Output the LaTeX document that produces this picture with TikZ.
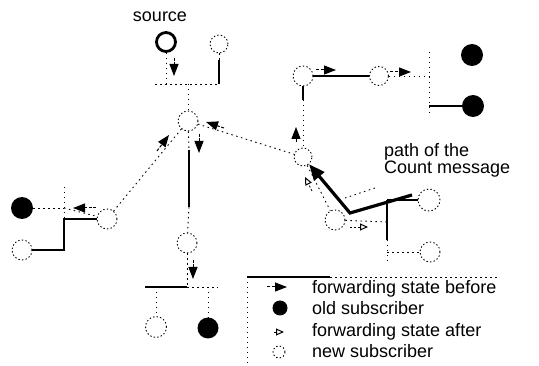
\documentclass[tikz,border=0pt]{standalone}
\usepackage{fontspec}
\setmainfont{Liberation Sans}
\usetikzlibrary{arrows.meta}
\begin{document}
\begin{tikzpicture}[x=1pt,y=-1pt,
  newsub/.style={circle,draw,line width=0.9pt,dash pattern=on 1.4pt off 2.2pt,minimum size=20pt,inner sep=0pt},
  oldsub/.style={circle,fill,minimum size=22pt,inner sep=0pt},
  srcnode/.style={circle,draw,line width=2.8pt,minimum size=19pt,inner sep=0pt},
  conn/.style={line width=1.1pt},
  faint/.style={line width=0.9pt,dash pattern=on 1.5pt off 3.5pt},
  fwdbefore/.style={line width=1pt,dash pattern=on 3pt off 1.5pt,-{Triangle[length=12pt,width=9pt]}},
  fwdafter/.style={line width=0.8pt,dash pattern=on 2pt off 2pt,-{Triangle[open,length=8pt,width=7pt,line width=1pt]}},
  countpath/.style={line width=3.2pt,-{Triangle[length=16pt,width=13pt]}},
  lbl/.style={font=\fontsize{18}{18}\selectfont,inner sep=0pt},
]
\useasboundingbox (0,0) rectangle (539,366);

% nodes
\node[srcnode] (src) at (166,42) {};
\node[lbl,anchor=base] (srclbl) at (160,22) {source};
\node[newsub,minimum size=18pt] (n1) at (219,44) {};
\node[newsub] (c) at (188,121) {};
\node[newsub] (nd) at (187,243) {};
\node[newsub,minimum size=21pt] (nll) at (156,327) {};
\node[oldsub,minimum size=21pt] (olr) at (208,328) {};
\node[newsub] (L) at (107,219) {};
\node[oldsub] (LF) at (22,208) {};
\node[newsub] (L2) at (22,250) {};
\node[newsub] (R1) at (303,76) {};
\node[newsub,minimum size=19pt] (R2) at (379,76) {};
\node[oldsub] (RF1) at (472,55) {};
\node[oldsub] (RF2) at (473,106) {};
\node[newsub,minimum size=18pt] (M) at (303,157) {};
\node[newsub] (P) at (335,220) {};
\node[newsub,minimum size=22pt] (Q) at (429,200) {};
\node[newsub] (S) at (430,252) {};

% junction coordinates
\coordinate (j1) at (166,84);
\coordinate (j1L) at (155,84);
\coordinate (j1R) at (219,84);
\coordinate (j1c) at (188,84);
\coordinate (n1b) at (219,60);
\coordinate (cd1) at (189,150);
\coordinate (cd2) at (189,207);
\coordinate (j2) at (187,287);
\coordinate (j2L) at (145,287);
\coordinate (j2R) at (218,287);
\coordinate (j2a) at (208,287);
\coordinate (j2b) at (156,287);
\coordinate (j3) at (64,208);
\coordinate (j3t) at (64,187);
\coordinate (j3b) at (64,219);
\coordinate (j3c) at (64,250);
\coordinate (rm) at (303,100);
\coordinate (j4) at (429,76);
\coordinate (j4t) at (429,52);
\coordinate (j4b) at (429,116);
\coordinate (j4f) at (429,106);
\coordinate (j5) at (387,222);
\coordinate (j5t) at (387,200);
\coordinate (j5m) at (387,240);
\coordinate (j5b) at (387,262);
\coordinate (j5s) at (387,252);
\coordinate (pd1) at (345,198);
\coordinate (pd2) at (378,187);
\coordinate (pa) at (412,195);
\coordinate (pb) at (350,213);

% tree connectors
\draw[faint] (src) -- (j1);
\draw[faint] (j1L) -- (j1R);
\draw[faint] (n1) -- (n1b);
\draw[conn] (n1b) -- (j1R);
\draw[faint] (j1c) -- (c);
\draw[faint] (c) -- (cd1);
\draw[conn] (cd1) -- (cd2);
\draw[faint] (cd2) -- (nd);
\draw[faint] (nd) -- (j2);
\draw[conn] (j2L) -- (j2);
\draw[faint] (j2) -- (j2R);
\draw[faint] (j2a) -- (olr);
\draw[faint] (j2b) -- (nll);
\draw[faint] (c) -- (L);
\draw[faint] (LF) -- (j3);
\draw[faint] (j3) -- (L);
\draw[faint] (j3t) -- (j3b);
\draw[conn] (L) -- (j3b) -- (j3c) -- (L2);
\draw[faint] (c) -- (M);
\draw[conn] (R1) -- (rm);
\draw[faint] (rm) -- (M);
\draw[conn] (R1) -- (R2);
\draw[faint] (R2) -- (j4);
\draw[faint] (j4t) -- (j4b);
\draw[conn] (j4f) -- (RF2);
\draw[faint] (M) -- (P);
\draw[faint] (P) -- (j5);
\draw[conn] (j5t) -- (j5m);
\draw[faint] (j5m) -- (j5b);
\draw[faint] (j5s) -- (S);
\draw[conn] (j5t) -- (Q);
\draw[faint] (pd1) -- (pd2);

% forwarding state markers
\draw[fwdbefore] (174,58) -- (174,76);
\draw[fwdbefore] (199,134) -- (199,153);
\draw[fwdbefore] (157,151) -- (169,135);
\draw[fwdbefore] (96,208) -- (73,208);
\draw[fwdbefore] (224,128) -- (206,122);
\draw[fwdbefore] (296,142) -- (296,127);
\draw[fwdbefore] (316,70) -- (336,70);
\draw[fwdbefore] (390,72) -- (411,72);
\draw[fwdbefore] (193,260) -- (193,279);
\draw[fwdafter] (312,191) -- (305,177);
\draw[fwdafter] (350,227) -- (368,227);

% path of the Count message
\draw[countpath] (pa) -- (pb) -- (M);
\node[lbl,anchor=base west] (pl1) at (384,157) {path of the};
\node[lbl,anchor=base west] (pl2) at (384,174) {Count message};

% legend
\coordinate (lg1) at (247,277);
\coordinate (lg2) at (330,277);
\coordinate (lg3) at (500,277);
\coordinate (lg4) at (247,366);
\draw[conn] (lg1) -- (lg2);
\draw[faint] (lg2) -- (lg3);
\draw[faint] (lg1) -- (lg4);
\draw[fwdbefore] (267,287) -- (287,287);
\node[oldsub,minimum size=15pt] (kold) at (280,308) {};
\draw[fwdafter] (274,332) -- (284,332);
\node[newsub,minimum size=12pt] (knew) at (279,352) {};
\node[lbl,anchor=base west] (t1) at (312,294) {forwarding state before};
\node[lbl,anchor=base west] (t2) at (312,315) {old subscriber};
\node[lbl,anchor=base west] (t3) at (312,337) {forwarding state after};
\node[lbl,anchor=base west] (t4) at (312,358) {new subscriber};
\end{tikzpicture}
\end{document}
